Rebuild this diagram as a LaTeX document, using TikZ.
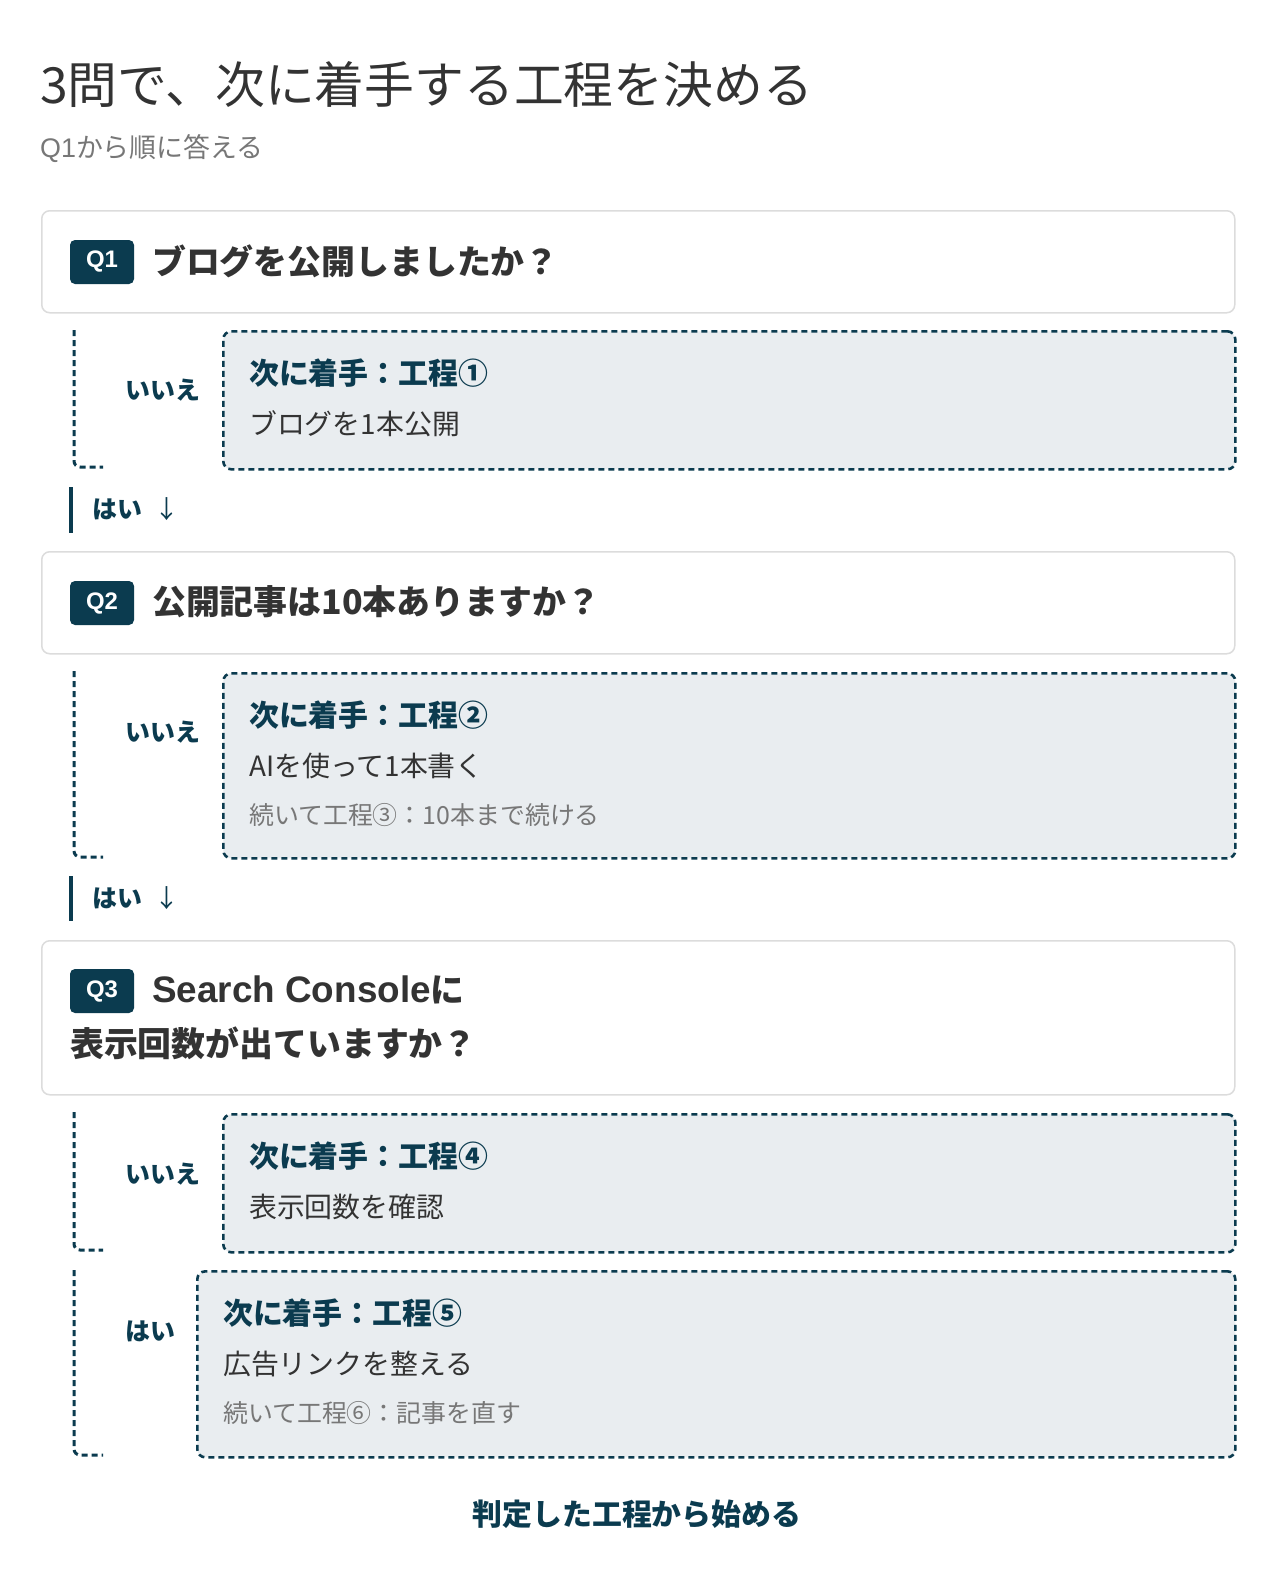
\documentclass[tikz,border=0pt]{standalone}
\usepackage{fontspec}
\setmainfont{Noto Sans CJK JP}
\newfontfamily\latin{Liberation Sans}
\definecolor{ink}{HTML}{333333}
\definecolor{mute}{HTML}{777777}
\definecolor{deep}{HTML}{0B3B4F}
\definecolor{pale}{HTML}{E9EDF0}
\definecolor{rim}{HTML}{DCDCDC}
\tikzset{
  qbox/.style={draw=rim,fill=white,line width=1.5bp,rounded corners=8bp,anchor=north west,inner sep=0pt},
  badge/.style={fill=deep,rounded corners=5bp,text=white,font=\latin\bfseries\fontsize{24}{26}\selectfont,minimum width=64bp,minimum height=44bp,inner sep=0pt},
  qtext/.style={anchor=west,inner sep=0pt,text=ink,font=\bfseries\fontsize{34}{40}\selectfont},
  ansbox/.style={draw=deep,fill=pale,line width=2.6bp,dash pattern=on 6bp off 4bp,rounded corners=8bp,anchor=north west,inner sep=0pt},
  bracket/.style={draw=deep,line width=3bp,dash pattern=on 6bp off 4bp,rounded corners=6bp},
  nolabel/.style={anchor=west,inner sep=0pt,text=deep,font=\bfseries\fontsize{25}{30}\selectfont},
  stephead/.style={anchor=west,inner sep=0pt,text=deep,font=\bfseries\fontsize{30}{36}\selectfont},
  stepbody/.style={anchor=west,inner sep=0pt,text=ink,font=\fontsize{28}{32}\selectfont},
  stepnote/.style={anchor=west,inner sep=0pt,text=mute,font=\fontsize{25}{30}\selectfont},
  yesbar/.style={draw=deep,line width=4bp}
}
\begin{document}
\begin{tikzpicture}[x=1bp,y=-1bp]
  \useasboundingbox[fill=white] (0,0) rectangle (1280,1574);

  \node[anchor=west,inner sep=0pt,text=ink,font=\fontsize{50}{56}\selectfont] (title) at (40,85) {3問で、次に着手する工程を決める};
  \node[anchor=west,inner sep=0pt,text=mute,font=\fontsize{27}{30}\selectfont] (sub) at (40,149) {{\latin Q1}から順に答える};

  % Q1
  \node[qbox,minimum width=1193bp,minimum height=102bp] (q1) at (41,210) {};
  \node[badge] (b1) at (102,262) {Q1};
  \node[qtext] (t1) at (152,261) {ブログを公開しましたか？};

  \draw[bracket] (74,330) -- (74,467) -- (103,467);
  \node[nolabel] (n1) at (125,390) {いいえ};
  \node[ansbox,minimum width=1012bp,minimum height=138bp] (a1) at (222,330) {};
  \node[stephead] (h1) at (249,373) {次に着手：工程①};
  \node[stepbody] (d1) at (249,424) {ブログを1本公開};

  \draw[yesbar] (71,487) -- (71,533);
  \node[nolabel] (y1) at (92,509) {はい\hspace{12bp}\mdseries ↓};

  % Q2
  \node[qbox,minimum width=1193bp,minimum height=102bp] (q2) at (41,551) {};
  \node[badge] (b2) at (102,603) {Q2};
  \node[qtext] (t2) at (152,602) {公開記事は10本ありますか？};

  \draw[bracket] (74,671) -- (74,857) -- (103,857);
  \node[nolabel] (n2) at (125,732) {いいえ};
  \node[ansbox,minimum width=1012bp,minimum height=185bp] (a2) at (222,672) {};
  \node[stephead] (h2) at (249,715) {次に着手：工程②};
  \node[stepbody] (d2) at (249,766) {AIを使って1本書く};
  \node[stepnote] (e2) at (249,815) {続いて工程③：10本まで続ける};

  \draw[yesbar] (71,876) -- (71,921);
  \node[nolabel] (y2) at (92,898) {はい\hspace{12bp}\mdseries ↓};

  % Q3
  \node[qbox,minimum width=1193bp,minimum height=154bp] (q3) at (41,940) {};
  \node[badge] (b3) at (102,991) {Q3};
  \node[qtext] (t3) at (152,990) {{\latin\fontsize{37}{40}\selectfont Search Console}に};
  \node[qtext] (t3b) at (70,1043) {表示回数が出ていますか？};

  \draw[bracket] (74,1112) -- (74,1250) -- (103,1250);
  \node[nolabel] (n3) at (125,1174) {いいえ};
  \node[ansbox,minimum width=1012bp,minimum height=138bp] (a3) at (222,1113) {};
  \node[stephead] (h3) at (249,1156) {次に着手：工程④};
  \node[stepbody] (d3) at (249,1207) {表示回数を確認};

  \draw[bracket] (74,1270) -- (74,1455) -- (103,1455);
  \node[nolabel] (y3) at (125,1331) {はい};
  \node[ansbox,minimum width=1038bp,minimum height=186bp] (a4) at (196,1270) {};
  \node[stephead] (h4) at (223,1313) {次に着手：工程⑤};
  \node[stepbody] (d4) at (223,1364) {広告リンクを整える};
  \node[stepnote] (e4) at (223,1413) {続いて工程⑥：記事を直す};

  \node[inner sep=0pt,text=deep,font=\bfseries\fontsize{30}{36}\selectfont] (foot) at (637,1514) {判定した工程から始める};

\end{tikzpicture}
\end{document}
